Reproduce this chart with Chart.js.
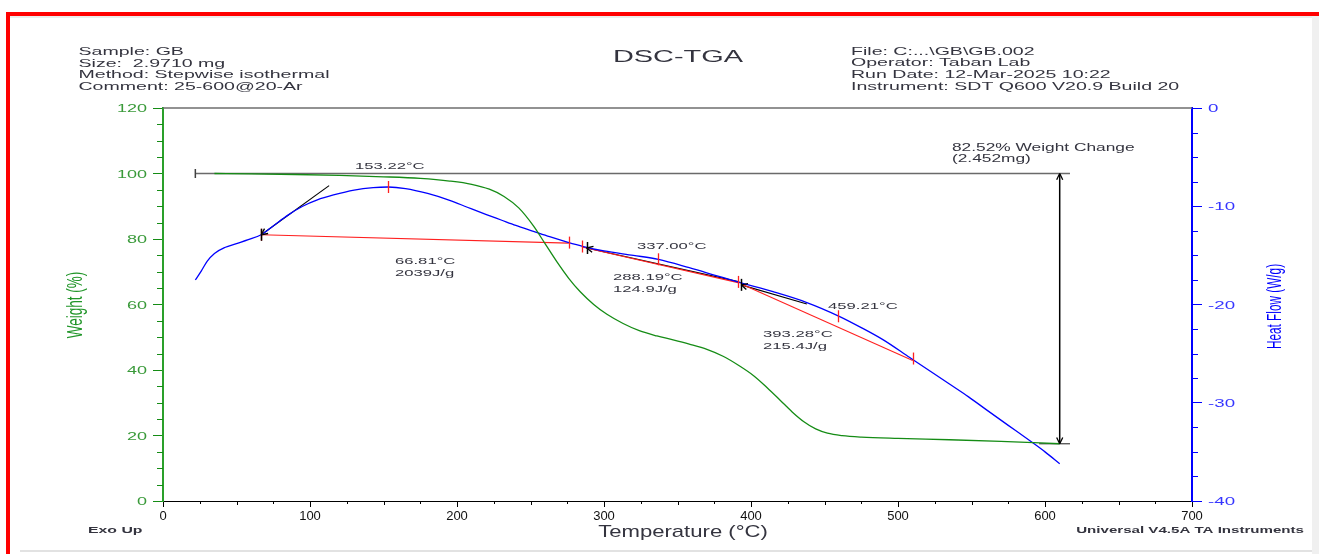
<!doctype html>
<html lang="en">
<head>
  <meta charset="utf-8">
  <title>DSC-TGA</title>
  <script src="https://cdn.jsdelivr.net/npm/chart.js@4.4.1/dist/chart.umd.min.js"></script>
  <style>
    html, body { margin: 0; padding: 0; background: #fff; }
    #frame { position: relative; width: 1319px; height: 554px; overflow: hidden; background: #fff; }
    .red-top { position: absolute; left: 6px; top: 12px; width: 1313px; height: 4px; background: #ff0000; }
    .red-left { position: absolute; left: 6px; top: 12px; width: 4px; height: 542px; background: #ff0000; }
    .shade-top { position: absolute; left: 10px; top: 16px; width: 1302px; height: 2px; background: #ececec; }
    .shade-right { position: absolute; left: 1312px; top: 16px; width: 7px; height: 538px; background: #f0f0f0; }
    .shade-bottom { position: absolute; left: 20px; top: 550px; width: 1292px; height: 2px; background: #e2e2e2; }
    #chart { position: absolute; left: 0; top: 0; }
  </style>
</head>
<body>
<div id="frame">
  <div class="red-top"></div>
  <div class="red-left"></div>
  <div class="shade-top"></div>
  <div class="shade-right"></div>
  <div class="shade-bottom"></div>
  <canvas id="chart" width="1319" height="554"></canvas>
</div>

<script>
  // TGA weight curve
  var weightTemp = [35, 60, 90, 120, 150, 175, 195, 210, 222, 232, 242, 252, 260, 268, 276, 284, 293, 302,
                    313, 324, 336, 347, 358, 370, 381, 392, 402, 411, 420, 428, 436, 444, 452, 462, 475,
                    500, 535, 570, 610];
  var weightPct = [100, 99.9, 99.7, 99.4, 99.0, 98.5, 97.7, 96.7, 95.2, 93.0, 89.5, 84.0, 78.5, 73.0, 68.0,
                   63.8, 60.0, 57.0, 54.2, 52.0, 50.4, 49.2, 47.9, 46.3, 44.2, 41.3, 38.2, 34.6, 30.7, 27.2,
                   24.2, 22.0, 20.7, 19.95, 19.5, 19.1, 18.7, 18.2, 17.48];

  // DSC heat flow curve
  var heatTemp = [22, 26, 30, 35, 42, 50, 58, 66.81, 75, 85, 95, 105, 116, 130, 143, 153.22, 165, 180, 195,
                  207, 220, 230, 240, 252, 263, 275, 286, 300, 320, 337, 358, 375, 392, 415, 438, 460, 475,
                  490, 508, 522, 535, 548, 560, 575, 590, 600, 610];
  var heatFlow = [-17.5, -16.6, -15.6, -14.8, -14.2, -13.8, -13.4, -12.9, -12.0, -10.9, -10.0, -9.35, -8.85,
                  -8.35, -8.1, -8.04, -8.2, -8.7, -9.4, -10.1, -10.85, -11.4, -11.95, -12.55, -13.1, -13.65,
                  -14.1, -14.55, -15.0, -15.4, -16.25, -17.0, -17.75, -18.7, -19.8, -21.2, -22.35, -23.6,
                  -25.4, -26.8, -28.1, -29.4, -30.7, -32.3, -33.9, -35.0, -36.2];

  // peak integration baselines (red)
  var baseTemp = [[66.81, 276], [285, 392], [393, 510]];
  var baseFlow = [[-12.9, -13.75], [-14.15, -17.8], [-17.9, -25.7]];

  // onset tangents (black), first point is the onset
  var tanTemp = [[66.81, 113], [288.19, 392], [393.28, 438]];
  var tanFlow = [[-12.9, -7.9], [-14.25, -17.7], [-18.0, -19.95]];

  // cursor marks on the heat flow curve
  var markTemp = [66.81, 153.22, 276, 285, 337.0, 391, 459.21, 510];
  var markFlow = [-12.9, -8.04, -13.7, -14.1, -15.4, -17.7, -21.2, -25.5];
  var onsetTemp = [66.81, 288.19, 393.28];
  var onsetFlow = [-12.9, -14.25, -18.0];

  // weight change step
  var stepFrom = 22, stepTo = 617, stepAt = 610;
  var stepTop = 100;
  var weightChange = 82.52;
  var stepBottom = stepTop - weightChange;

  // peak result labels: [temperature, heat flow, lines]
  var peakLabels = [
    [130.6, -6.16, ['153.22°C']],
    [157.8, -15.88, ['66.81°C', '2039J/g']],
    [322.4, -14.38, ['337.00°C']],
    [306.1, -17.51, ['288.19°C', '124.9J/g']],
    [452.4, -20.49, ['459.21°C']],
    [408.2, -23.34, ['393.28°C', '215.4J/g']]
  ];
  var stepLabel = [536.7, 107.0, ['82.52% Weight Change', '(2.452mg)']];

  var headerLeft = ['Sample: GB', 'Size:  2.9710 mg', 'Method: Stepwise isothermal', 'Comment: 25-600@20-Ar'];
  var headerRight = ['File: C:...\\GB\\GB.002', 'Operator: Taban Lab', 'Run Date: 12-Mar-2025 10:22',
                     'Instrument: SDT Q600 V20.9 Build 20'];

  var GREEN = '#158c15', BLUE = '#0000ff', RED = '#ff2020', TEXT = '#34343f';
  var FONT = '"Liberation Sans", Arial, sans-serif';

  function pts(ts, vs) {
    return ts.map(function (t, i) { return {x: t, y: vs[i]}; });
  }

  function lineSet(data, axis, color, width) {
    return {data: data, yAxisID: axis, borderColor: color, borderWidth: width,
            pointRadius: 0, fill: false, tension: 0};
  }

  // text squeezed the way the instrument software prints it (wide glyphs)
  function wideText(ctx, text, x, y, font, color, align, rot, sx) {
    ctx.save();
    ctx.translate(x, y);
    ctx.scale(sx || 1.7, 1);
    if (rot) ctx.rotate(rot);
    ctx.font = font;
    ctx.fillStyle = color;
    ctx.textAlign = align || 'left';
    ctx.textBaseline = rot ? 'middle' : 'alphabetic';
    ctx.fillText(text, 0, 0);
    ctx.restore();
  }

  function seg(ctx, x1, y1, x2, y2, color, w) {
    ctx.beginPath();
    ctx.strokeStyle = color;
    ctx.lineWidth = w || 1;
    ctx.moveTo(x1, y1);
    ctx.lineTo(x2, y2);
    ctx.stroke();
  }

  function arrowHead(ctx, fx, fy, tx, ty, color) {
    var a = Math.atan2(ty - fy, tx - fx), len = 7, spread = 0.45;
    seg(ctx, tx, ty, tx - len * Math.cos(a - spread), ty - len * Math.sin(a - spread), color, 1.3);
    seg(ctx, tx, ty, tx - len * Math.cos(a + spread), ty - len * Math.sin(a + spread), color, 1.3);
  }

  var decor = {
    id: 'decor',
    afterDraw: function (chart) {
      var ctx = chart.ctx, area = chart.chartArea;
      var xs = chart.scales.x, ws = chart.scales.y, hs = chart.scales.y1;

      // frame top line
      seg(ctx, area.left, area.top, area.right, area.top, '#6e6e6e', 1.5);

      // minor ticks
      for (var v = 5; v < 120; v += 5) {
        if (v % 20 === 0) continue;
        var py = Math.round(ws.getPixelForValue(v)) + 0.5;
        seg(ctx, area.left - 6, py, area.left, py, GREEN, 1);
      }
      for (var h = -37.5; h < 0; h += 2.5) {
        if (h % 10 === 0) continue;
        var hy = Math.round(hs.getPixelForValue(h)) + 0.5;
        seg(ctx, area.right, hy, area.right + 6, hy, BLUE, 1);
      }
      for (var t = 25; t < 700; t += 25) {
        if (t % 100 === 0) continue;
        var tx = Math.round(xs.getPixelForValue(t)) + 0.5;
        seg(ctx, tx, area.bottom, tx, area.bottom + (t % 50 === 0 ? 4 : 3), '#000', 1);
      }

      // y tick labels
      ws.ticks.forEach(function (tk) {
        wideText(ctx, String(tk.value), area.left - 16, ws.getPixelForValue(tk.value) + 4,
                 '10.6px ' + FONT, '#3a9a3a', 'right');
      });
      hs.ticks.forEach(function (tk) {
        wideText(ctx, String(tk.value), area.right + 16, hs.getPixelForValue(tk.value) + 4,
                 '11px ' + FONT, '#3535ff', 'left');
      });

      // axis titles
      wideText(ctx, 'Weight (%)', 75.5, 305, '13.5px ' + FONT, '#22962a', 'center', -Math.PI / 2);
      wideText(ctx, 'Heat Flow (W/g)', 1275, 306.5, '11.8px ' + FONT, BLUE, 'center', -Math.PI / 2);
      wideText(ctx, 'Temperature (°C)', 683, 537, '17px ' + FONT, TEXT, 'center', 0, 1.3);
      wideText(ctx, 'Exo Up', 88, 533, 'bold 9.3px ' + FONT, TEXT, 'left');
      wideText(ctx, 'Universal V4.5A TA Instruments', 1304, 533, 'bold 8.9px ' + FONT, TEXT, 'right');

      // header
      headerLeft.forEach(function (s, i) {
        wideText(ctx, s, 78.5, 55 + i * 11.7, '11.5px ' + FONT, TEXT, 'left');
      });
      headerRight.forEach(function (s, i) {
        wideText(ctx, s, 851, 54.5 + i * 11.8, '11.5px ' + FONT, TEXT, 'left');
      });
      wideText(ctx, 'DSC-TGA', 678, 62, '17px ' + FONT, TEXT, 'center');

      // weight step bracket ends and arrow
      var sx0 = xs.getPixelForValue(stepFrom), wy = ws.getPixelForValue(stepTop);
      seg(ctx, sx0, wy - 4.5, sx0, wy + 4.5, '#404040', 1.5);
      var ax = xs.getPixelForValue(stepAt), ay0 = ws.getPixelForValue(stepTop), ay1 = ws.getPixelForValue(stepBottom);
      arrowHead(ctx, ax, ay1, ax, ay0, '#000');
      arrowHead(ctx, ax, ay0, ax, ay1, '#000');

      // onset tangent arrows
      tanTemp.forEach(function (tt, i) {
        arrowHead(ctx, xs.getPixelForValue(tt[1]), hs.getPixelForValue(tanFlow[i][1]),
                  xs.getPixelForValue(tt[0]), hs.getPixelForValue(tanFlow[i][0]), '#000');
      });

      // cursor marks
      markTemp.forEach(function (mt, i) {
        var mx = Math.round(xs.getPixelForValue(mt)) + 0.5, my = hs.getPixelForValue(markFlow[i]);
        seg(ctx, mx, my - 6, mx, my + 6, RED, 1.3);
      });
      onsetTemp.forEach(function (ot, i) {
        var ox = Math.round(xs.getPixelForValue(ot)) + 0.5, oy = hs.getPixelForValue(onsetFlow[i]);
        seg(ctx, ox, oy - 6, ox, oy + 6, '#000', 1.5);
      });

      // result labels
      peakLabels.forEach(function (lb) {
        var lx = xs.getPixelForValue(lb[0]), ly = hs.getPixelForValue(lb[1]);
        lb[2].forEach(function (s, k) {
          wideText(ctx, s, lx, ly + k * 12, '9.8px ' + FONT, TEXT, 'left');
        });
      });
      var sl = stepLabel, slx = xs.getPixelForValue(sl[0]), sly = ws.getPixelForValue(sl[1]);
      sl[2].forEach(function (s, k) {
        wideText(ctx, s, slx, sly + k * 11, '10.2px ' + FONT, TEXT, 'left');
      });
    }
  };

  var datasets = [
    Object.assign(lineSet(pts(weightTemp, weightPct), 'y', GREEN, 1.3), {cubicInterpolationMode: 'monotone'}),
    Object.assign(lineSet(pts(heatTemp, heatFlow), 'y1', BLUE, 1.3), {cubicInterpolationMode: 'monotone'}),
    lineSet(pts([stepFrom, stepTo], [stepTop, stepTop]), 'y', '#6a6a6a', 1.5),
    lineSet(pts([stepAt - 14, stepTo], [stepBottom, stepBottom]), 'y', '#404040', 1.2),
    lineSet(pts([stepAt, stepAt], [stepTop, stepBottom]), 'y', '#000', 1.5)
  ];
  baseTemp.forEach(function (bt, i) {
    datasets.push(lineSet(pts(bt, baseFlow[i]), 'y1', RED, 1.1));
  });
  tanTemp.forEach(function (tt, i) {
    datasets.push(lineSet(pts(tt, tanFlow[i]), 'y1', '#000', 1.1));
  });

  var ctx = document.getElementById('chart').getContext('2d');
  var chart = new Chart(ctx, {
    type: 'line',
    data: {datasets: datasets},
    plugins: [decor],
    options: {
      responsive: false,
      animation: false,
      events: [],
      layout: {padding: {top: 108, left: 0, right: 0, bottom: 0}},
      plugins: {legend: {display: false}, tooltip: {enabled: false}},
      scales: {
        x: {
          type: 'linear', min: 0, max: 700,
          ticks: {stepSize: 100, color: '#111', font: {family: FONT, size: 13}, padding: 2, maxRotation: 0},
          grid: {drawOnChartArea: false, tickLength: 6, tickColor: '#000'},
          border: {color: '#000', width: 1},
          afterFit: function (s) { s.height = 53; }
        },
        y: {
          position: 'left', min: 0, max: 120,
          ticks: {stepSize: 20, display: false},
          grid: {drawOnChartArea: false, tickLength: 10, tickColor: GREEN},
          border: {color: '#2aa02a', width: 2},
          afterFit: function (s) { s.width = 163; }
        },
        y1: {
          position: 'right', min: -40, max: 0,
          ticks: {stepSize: 10, display: false},
          grid: {drawOnChartArea: false, tickLength: 10, tickColor: BLUE},
          border: {color: BLUE, width: 2},
          afterFit: function (s) { s.width = 127; }
        }
      }
    }
  });
</script>
</body>
</html>
